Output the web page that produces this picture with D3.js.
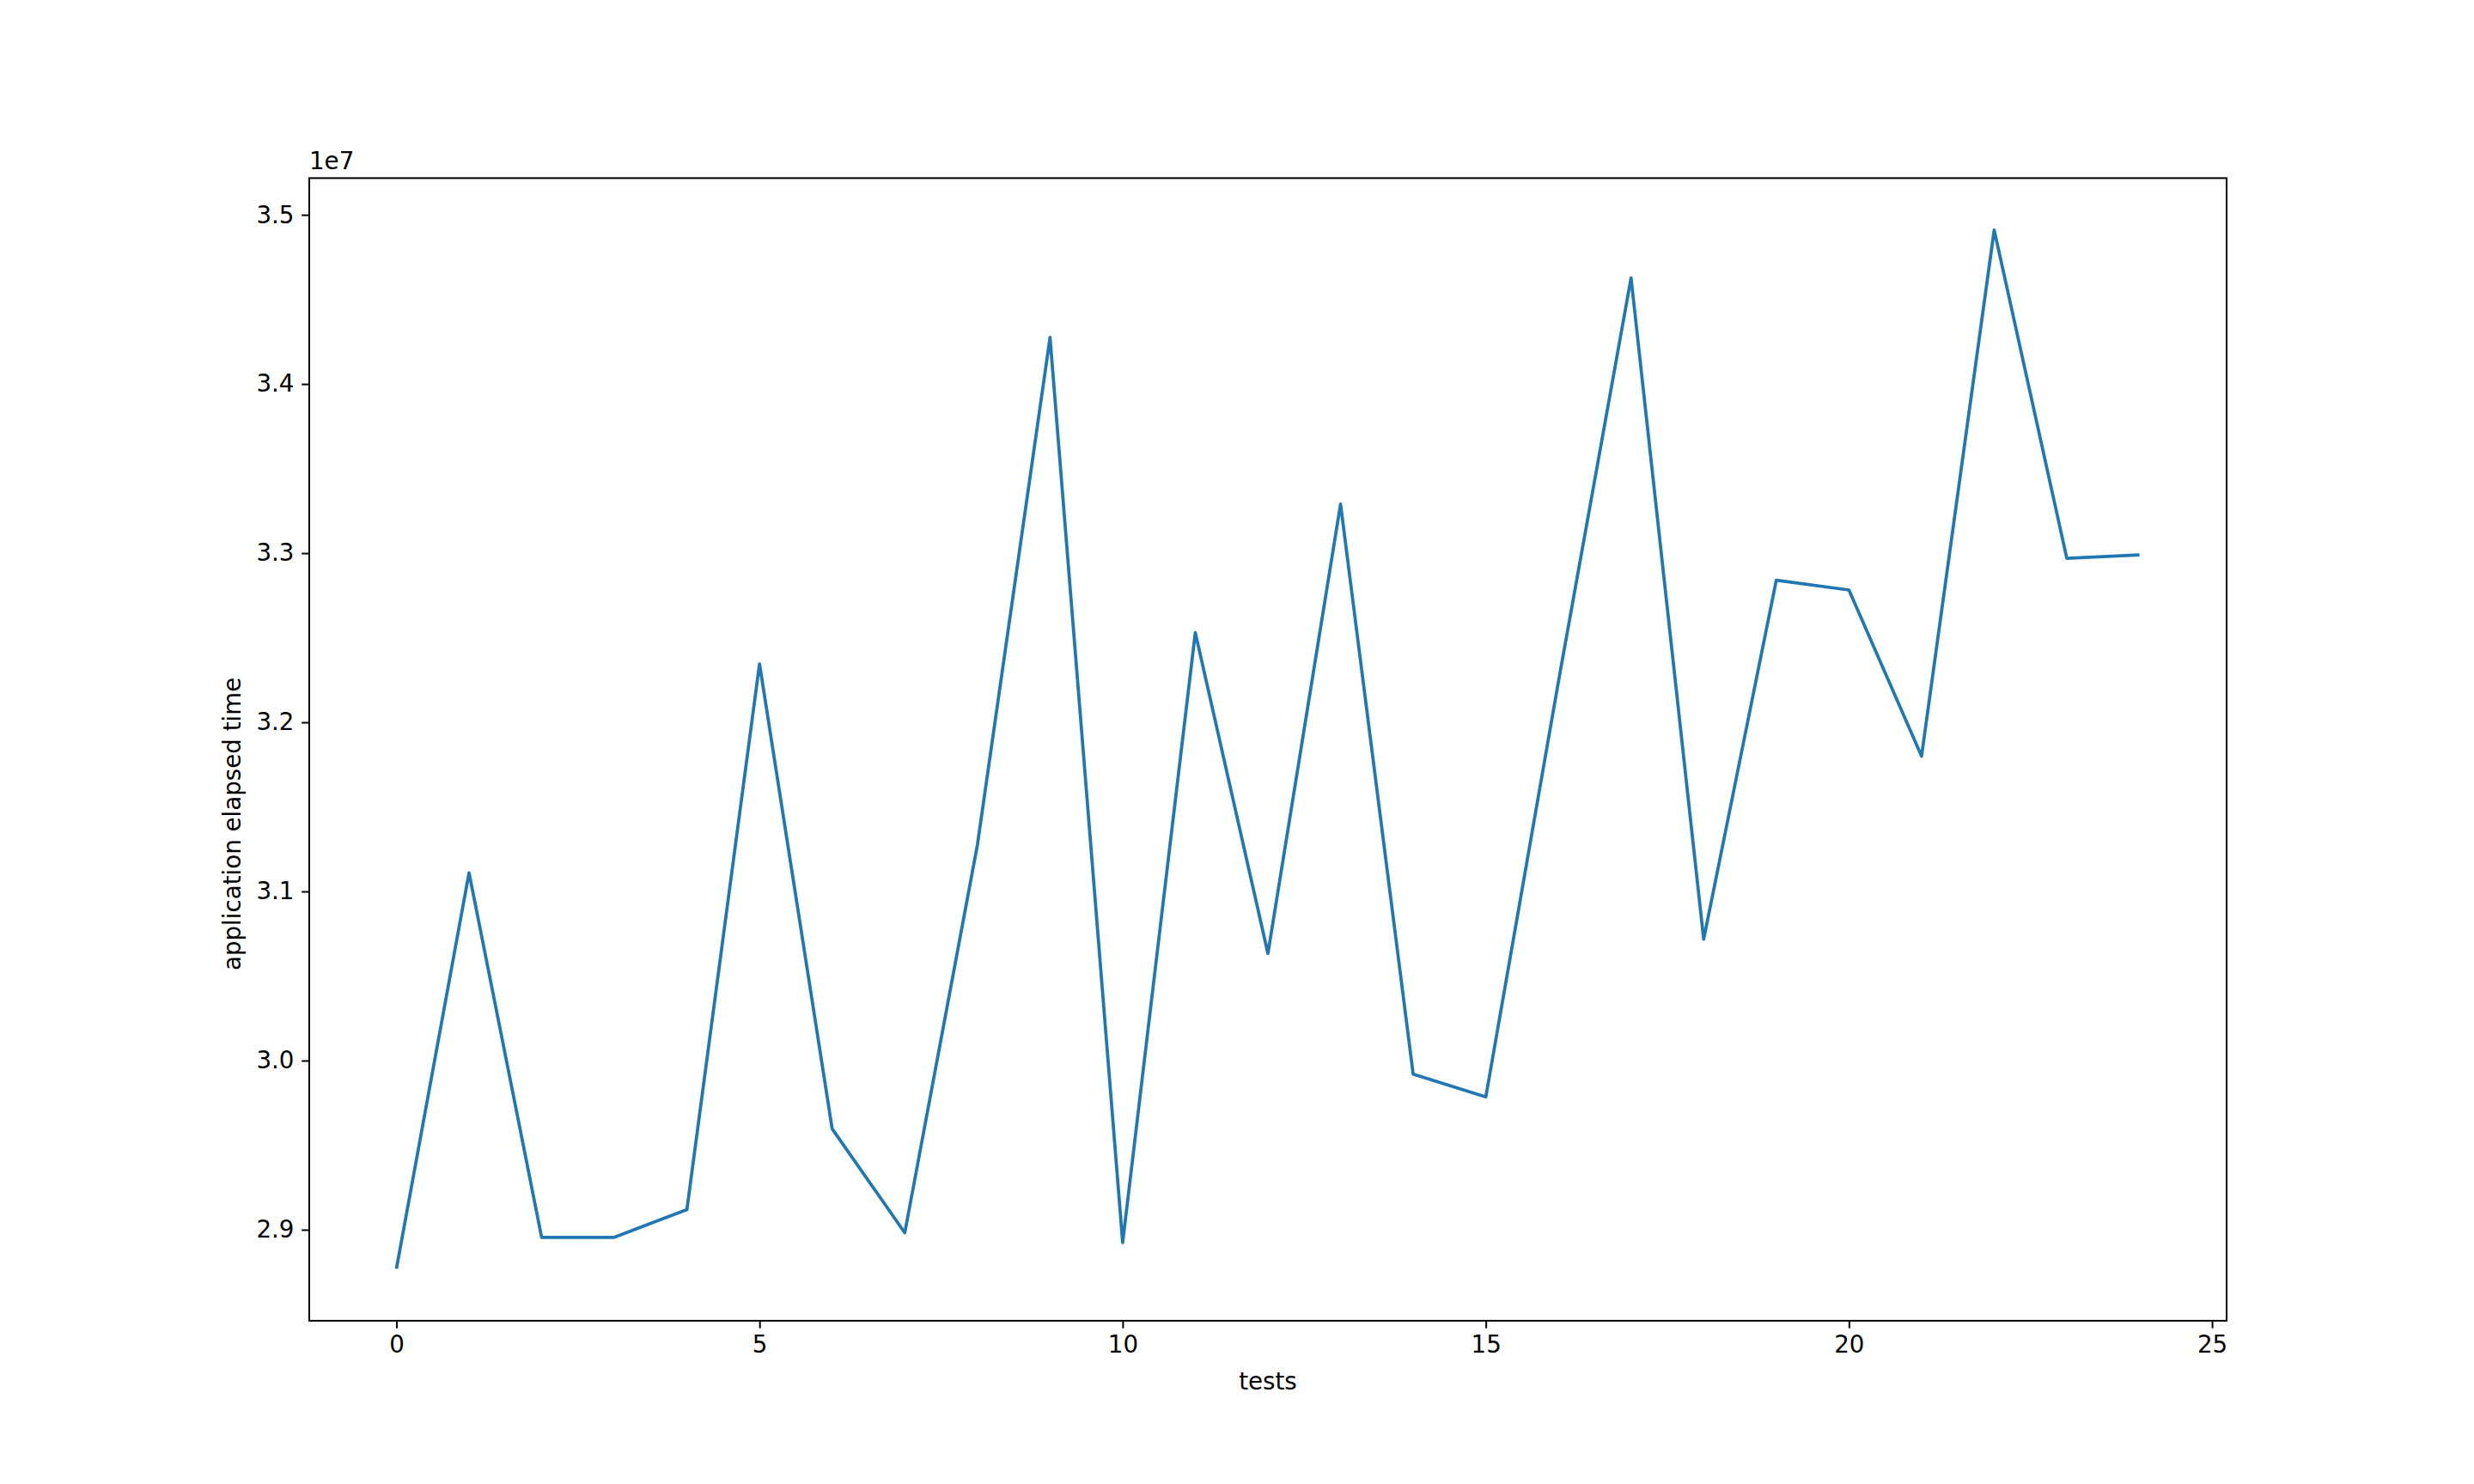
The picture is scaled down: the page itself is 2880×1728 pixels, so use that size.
<!DOCTYPE html>
<html>
<head>
<meta charset="utf-8">
<script src="https://cdn.jsdelivr.net/npm/d3@7"></script>
<style>
  html, body { margin: 0; padding: 0; background: #ffffff; }
  svg { display: block; }
  text { font-family: "DejaVu Sans", sans-serif; }
</style>
</head>
<body>
<script>
// Data (values in units of 1e7)
const tests = [0,1,2,3,4,5,6,7,8,9,10,11,12,13,14,15,16,17,18,19,20,21,22,23,24];
const elapsed = [2.8769, 3.1110, 2.8955, 2.8955, 2.9119, 3.2345, 2.9597, 2.8982, 3.1275,
                 3.4275, 2.8924, 3.2530, 3.0633, 3.3290, 2.9920, 2.9785, 3.2240, 3.4627,
                 3.0717, 3.2840, 3.2782, 3.1800, 3.4910, 3.2969, 3.2989];
const xTicks = [0, 5, 10, 15, 20, 25];
const yTicks = [2.9, 3.0, 3.1, 3.2, 3.3, 3.4, 3.5];
const xLabel = "tests";
const yLabel = "application elapsed time";
const offsetLabel = "1e7";

(function () {
const W = 2880, H = 1728;
const pL = 360, pR = 2592, pT = 207.4, pB = 1537.9;
const fs = 27.7, tickLen = 8.75, pad = 8.75;

const svg = d3.select("body").append("svg").attr("width", W).attr("height", H);
svg.append("rect").attr("width", W).attr("height", H).attr("fill", "#fff");

const xmin = d3.min(tests), xmax = d3.max(tests);
const xm = (xmax - xmin) * 0.05;
const x = d3.scaleLinear().domain([xmin - xm, xmax + xm]).range([pL, pR]);
const ymin = d3.min(elapsed), ymax = d3.max(elapsed);
const ym = (ymax - ymin) * 0.05;
const y = d3.scaleLinear().domain([ymin - ym, ymax + ym]).range([pB, pT]);

// line
const line = d3.line().x((d, i) => x(tests[i])).y(d => y(d));
svg.append("path").datum(elapsed)
  .attr("d", line)
  .attr("fill", "none")
  .attr("stroke", "#1f77b4")
  .attr("stroke-width", 3.75)
  .attr("stroke-linejoin", "round")
  .attr("stroke-linecap", "butt");

// axes
const xAxis = d3.axisBottom(x).tickValues(xTicks).tickFormat(d3.format("d"))
  .tickSize(tickLen).tickPadding(pad).tickSizeOuter(0);
const gx = svg.append("g").attr("transform", `translate(0,${pB})`).call(xAxis);
const yAxis = d3.axisLeft(y).tickValues(yTicks).tickFormat(d3.format(".1f"))
  .tickSize(tickLen).tickPadding(pad).tickSizeOuter(0);
const gy = svg.append("g").attr("transform", `translate(${pL},0)`).call(yAxis);
[gx, gy].forEach(g => {
  g.select(".domain").remove();
  g.selectAll(".tick line").attr("stroke", "#000").attr("stroke-width", 2);
  g.selectAll(".tick text").attr("fill", "#000").style("font-size", fs + "px")
    .style("font-family", "'DejaVu Sans', sans-serif");
});

// frame
svg.append("rect").attr("x", pL).attr("y", pT)
  .attr("width", pR - pL).attr("height", pB - pT)
  .attr("fill", "none").attr("stroke", "#000").attr("stroke-width", 2);

// offset text
svg.append("text").attr("x", pL).attr("y", pT - 10)
  .style("font-size", fs + "px").attr("fill", "#000").text(offsetLabel);

// axis labels
svg.append("text").attr("x", (pL + pR) / 2).attr("y", 1618)
  .attr("text-anchor", "middle").style("font-size", fs + "px").attr("fill", "#000").text(xLabel);
svg.append("text")
  .attr("transform", `translate(${280},${1130}) rotate(-90)`)
  .attr("text-anchor", "start").style("font-size", fs + "px").attr("fill", "#000").text(yLabel);
})();
</script>
</body>
</html>
